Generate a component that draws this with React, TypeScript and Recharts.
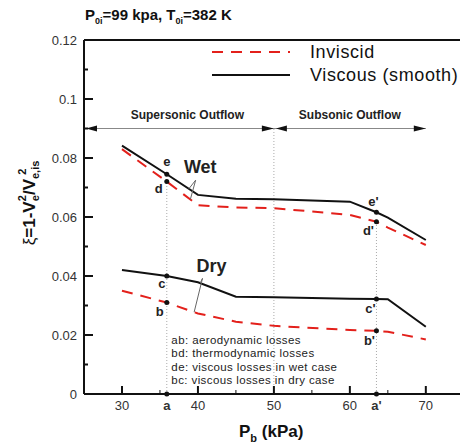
import React from "react";
import { LineChart, Line, XAxis, YAxis, ReferenceLine, ReferenceDot, Legend } from "recharts";

// back pressure (kPa) and loss coefficient
const pressure = [30, 35.9, 40, 45, 50, 60, 63.5, 65, 70];
const wetViscous = [0.0842, 0.0745, 0.0675, 0.0662, 0.066, 0.0652, 0.0616, 0.0598, 0.0522];
const wetInviscid = [0.083, 0.072, 0.064, 0.0632, 0.063, 0.0607, 0.0584, 0.0564, 0.0505];
const dryViscous = [0.042, 0.04, 0.0379, 0.033, 0.0328, 0.0323, 0.0322, 0.0321, 0.0228];
const dryInviscid = [0.035, 0.031, 0.0273, 0.0245, 0.0231, 0.0217, 0.0214, 0.0211, 0.0185];

const yTicks = [0, 0.01, 0.02, 0.03, 0.04, 0.05, 0.06, 0.07, 0.08, 0.09, 0.1, 0.11, 0.12];
const yTickLabels = ["0", "", "0.02", "", "0.04", "", "0.06", "", "0.08", "", "0.1", "", "0.12"];
const xTicks = [30, 35, 35.9, 40, 45, 50, 55, 60, 63.5, 65, 70];
const xTickLabels = ["30", "", "a", "40", "", "50", "", "60", "a'", "", "70"];

const stationIdx = [1, 6];
const stationNames = [
  ["e", "d", "c", "b"],
  ["e'", "d'", "c'", "b'"],
];
const sonicLimit = 50;
const arrowLevel = 0.09;
const regimeNames = ["Supersonic Outflow", "Subsonic Outflow"];
const lossNotes = [
  "ab: aerodynamic losses",
  "bd: thermodynamic losses",
  "de: viscous losses in wet case",
  "bc: viscous losses in dry case",
];

const RED = "#e3201b";
const FONT = "Arial, 'Liberation Sans', sans-serif";
const DASH = "11 8";
const TICK_GAP = 7;

const legendItems = [
  { name: "Inviscid", color: RED, dash: DASH },
  { name: "Viscous (smooth)", color: "#111", dash: undefined },
];

const rows = pressure.map((p, i) => ({
  p,
  wv: wetViscous[i],
  wi: wetInviscid[i],
  dv: dryViscous[i],
  di: dryInviscid[i],
}));

const interp = (xs: number[], ys: number[], x: number) => {
  for (let i = 0; i < xs.length - 1; i++) {
    if (x >= xs[i] && x <= xs[i + 1]) {
      const t = (x - xs[i]) / (xs[i + 1] - xs[i]);
      return ys[i] + t * (ys[i + 1] - ys[i]);
    }
  }
  return ys[ys.length - 1];
};

const tagAt =
  (text: string, dx: number, dy: number, size = 13, weight: any = "bold") =>
  (p: any) => {
    const vb = p.viewBox;
    const cx = vb.x + vb.width / 2;
    const cy = vb.y + vb.height / 2;
    return (
      <text x={cx + dx} y={cy + dy} textAnchor="middle" fontFamily={FONT} fontSize={size} fontWeight={weight} fill="#222">
        {text}
      </text>
    );
  };

const notesAt = (p: any) => {
  const vb = p.viewBox;
  return (
    <text x={vb.x} y={vb.y} fontFamily={FONT} fontSize={11.5} letterSpacing={0.4} fill="#222">
      {lossNotes.map((n, i) => (
        <tspan key={n} x={vb.x} dy={i === 0 ? 0 : 13.3}>
          {n}
        </tspan>
      ))}
    </text>
  );
};

const YTick = (props: any) => {
  const { x, y, payload } = props;
  const label = yTickLabels[yTicks.indexOf(payload.value)];
  const ax = x + TICK_GAP;
  return (
    <g>
      <line x1={ax} x2={ax + (label ? 9 : 4)} y1={y} y2={y} stroke="#111" strokeWidth={2} />
      <text x={x} y={y} dy="0.35em" textAnchor="end" fontFamily={FONT} fontSize={13} fill="#333">
        {label}
      </text>
    </g>
  );
};

const XTick = (props: any) => {
  const { x, y, payload } = props;
  const label = xTickLabels[xTicks.indexOf(payload.value)];
  const ay = y - TICK_GAP;
  const isStation = label === "a" || label === "a'";
  return (
    <g>
      {!isStation && (
        <line x1={x} x2={x} y1={ay} y2={ay - (label ? 8 : 4)} stroke="#111" strokeWidth={label ? 2 : 1} />
      )}
      <text x={x} y={y} dy="0.71em" textAnchor="middle" fontFamily={FONT} fontSize={13} fontWeight={isStation ? "bold" : "normal"} fill="#333">
        {label}
      </text>
    </g>
  );
};

const Arrow = (p: any) => {
  const { x1, y1, x2, y2 } = p;
  const l = Math.min(x1, x2);
  const r = Math.max(x1, x2);
  return (
    <g>
      <line x1={l} x2={r} y1={y1} y2={y2} stroke="#888" strokeWidth={1} />
      <polygon points={`${l + 2},${y1} ${l + 13},${y1 - 3} ${l + 13},${y1 + 3}`} fill="#111" />
      <polygon points={`${r},${y1} ${r - 12},${y1 - 3} ${r - 12},${y1 + 3}`} fill="#111" />
    </g>
  );
};

const LegendBox = () => (
  <svg width={250} height={48}>
    {legendItems.map((it, i) => (
      <g key={it.name}>
        <line x1={2} x2={80} y1={12 + i * 23} y2={12 + i * 23} stroke={it.color} strokeWidth={2} strokeDasharray={it.dash} />
        <text x={100} y={18 + i * 23} fontFamily={FONT} fontSize={18} letterSpacing={0.6} fill="#111">
          {it.name}
        </text>
      </g>
    ))}
  </svg>
);

const wetTag = { x: 40.3, y: 0.0749 };
const wetFoot = { x: 39.7, y: 0.0725 };
const wetTargets = [38.8, 39.0];
const dryTag = { x: 41.8, y: 0.0414 };
const dryFoot = { x: 40.6, y: 0.0392 };
const dryTargets = [40.3, 39.5];

const dotLabelOffsets = [
  [
    [0, -8],
    [-8, 11],
    [-5, 12],
    [-7, 13],
  ],
  [
    [-3, -6],
    [-8, 13],
    [-6, 14],
    [-7, 14],
  ],
];

export default function App() {
  const seriesAtStations = [wetViscous, wetInviscid, dryViscous, dryInviscid];
  return (
    <div style={{ position: "absolute", left: 0, top: 0, width: 460, height: 446, background: "#fff" }}>
      <LineChart width={460} height={446} data={rows} margin={{ top: 40, right: 0, bottom: 22, left: 0 }}>
        <XAxis
          dataKey="p"
          type="number"
          domain={[25, 74.5]}
          ticks={xTicks}
          interval={0}
          height={30}
          tickSize={0}
          tickMargin={TICK_GAP}
          tickLine={false}
          tick={<XTick />}
          axisLine={{ stroke: "#111", strokeWidth: 2 }}
          allowDataOverflow
        />
        <YAxis
          type="number"
          domain={[0, 0.12]}
          ticks={yTicks}
          interval={0}
          width={84}
          tickSize={0}
          tickMargin={TICK_GAP}
          tickLine={false}
          tick={<YTick />}
          axisLine={{ stroke: "#111", strokeWidth: 2 }}
          allowDataOverflow
        />
        <ReferenceLine y={0.12} stroke="#111" strokeWidth={2} />
        <Legend layout="vertical" align="center" verticalAlign="middle" content={<LegendBox />} wrapperStyle={{ left: 210, top: 40, width: 250 }} />

        <ReferenceLine segment={[{ x: sonicLimit, y: 0 }, { x: sonicLimit, y: arrowLevel }]} stroke="#aaa" strokeDasharray="1 2" />
        {stationIdx.map((k) => (
          <ReferenceLine
            key={"v" + k}
            segment={[{ x: pressure[k], y: 0 }, { x: pressure[k], y: wetInviscid[k] }]}
            stroke="#aaa"
            strokeDasharray="1 2"
          />
        ))}
        <ReferenceLine segment={[{ x: 25, y: arrowLevel }, { x: sonicLimit, y: arrowLevel }]} shape={<Arrow />} />
        <ReferenceLine segment={[{ x: sonicLimit, y: arrowLevel }, { x: 70, y: arrowLevel }]} shape={<Arrow />} />
        <ReferenceDot x={38.6} y={0.0932} r={0} stroke="none" label={tagAt(regimeNames[0], 0, 0, 12)} />
        <ReferenceDot x={60} y={0.0932} r={0} stroke="none" label={tagAt(regimeNames[1], 0, 0, 12)} />

        <Line dataKey="wi" type="linear" stroke={RED} strokeWidth={2} strokeDasharray={DASH} dot={false} isAnimationActive={false} legendType="none" />
        <Line dataKey="di" type="linear" stroke={RED} strokeWidth={2} strokeDasharray={DASH} dot={false} isAnimationActive={false} legendType="none" />
        <Line dataKey="wv" type="linear" stroke="#111" strokeWidth={2} dot={false} isAnimationActive={false} legendType="none" />
        <Line dataKey="dv" type="linear" stroke="#111" strokeWidth={2} dot={false} isAnimationActive={false} legendType="none" />

        {[wetViscous, wetInviscid].map((s, i) => (
          <ReferenceLine
            key={"wp" + i}
            segment={[wetFoot, { x: wetTargets[i], y: interp(pressure, s, wetTargets[i]) }]}
            stroke="#666"
            strokeWidth={1}
          />
        ))}
        {[dryViscous, dryInviscid].map((s, i) => (
          <ReferenceLine
            key={"dp" + i}
            segment={[dryFoot, { x: dryTargets[i], y: interp(pressure, s, dryTargets[i]) }]}
            stroke="#666"
            strokeWidth={1}
          />
        ))}
        <ReferenceDot x={wetTag.x} y={wetTag.y} r={0} stroke="none" label={tagAt("Wet", 0, 0, 18, "bold")} />
        <ReferenceDot x={dryTag.x} y={dryTag.y} r={0} stroke="none" label={tagAt("Dry", 0, 0, 18, "bold")} />

        {stationIdx.map((k, si) =>
          seriesAtStations.map((s, j) => (
            <ReferenceDot
              key={stationNames[si][j]}
              x={pressure[k]}
              y={s[k]}
              r={2.5}
              fill="#111"
              stroke="none"
              label={tagAt(stationNames[si][j], dotLabelOffsets[si][j][0], dotLabelOffsets[si][j][1])}
            />
          ))
        )}
        {stationIdx.map((k) => (
          <ReferenceDot key={"a" + k} x={pressure[k]} y={0} r={2.5} fill="#111" stroke="none" />
        ))}
        <ReferenceDot x={36.5} y={0.0169} r={0} stroke="none" label={notesAt} />
      </LineChart>

      <svg width={460} height={446} style={{ position: "absolute", left: 0, top: 0, pointerEvents: "none" }}>
        <text x={85} y={20} fontFamily={FONT} fontSize={15} fontWeight="bold" fill="#111">
          P<tspan dy={4} fontSize={9}>0i</tspan>
          <tspan dy={-4}>=99 kpa, T</tspan>
          <tspan dy={4} fontSize={9}>0i</tspan>
          <tspan dy={-4}>=382 K</tspan>
        </text>
        <text x={239} y={437} fontFamily={FONT} fontSize={17} fontWeight="bold" fill="#111">
          P<tspan dy={5} fontSize={11}>b</tspan>
          <tspan dy={-5}> (kPa)</tspan>
        </text>
        <text transform="translate(35,203) rotate(-90)" textAnchor="middle" fontFamily={FONT} fontSize={17} fontWeight="bold" fill="#111">
          <tspan fontWeight="normal">ξ</tspan>=1-V<tspan dy={4} fontSize={11}>e</tspan>
          <tspan dx={-6} dy={-13} fontSize={11}>2</tspan>
          <tspan dy={9}>/V</tspan>
          <tspan dy={4} fontSize={11}>e,is</tspan>
          <tspan dx={-14} dy={-13} fontSize={11}>2</tspan>
        </text>
      </svg>
    </div>
  );
}
